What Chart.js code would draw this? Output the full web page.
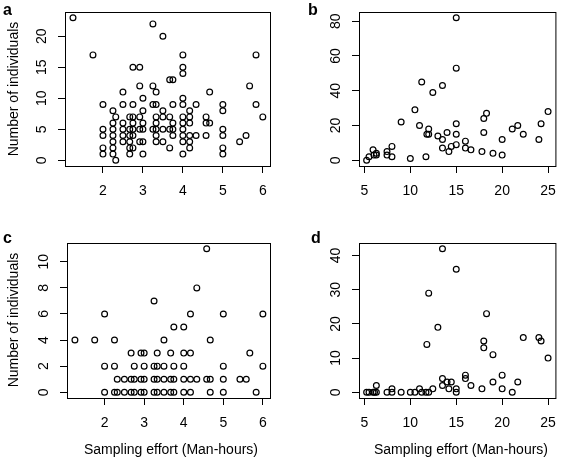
<!DOCTYPE html>
<html lang="en">
<head>
<meta charset="UTF-8">
<title>Sampling effort vs number of individuals</title>
<script src="https://cdn.jsdelivr.net/npm/chart.js"></script>
<style>
    body { margin: 0; background: #fff; font-family: "Liberation Sans", Arial, sans-serif; color: #000; }
    #wrap { position: relative; width: 566px; height: 458px; overflow: hidden; }
    #wrap canvas { position: absolute; }
    .letter { position: absolute; font-weight: bold; font-size: 16px; line-height: 16px; }
    .xtitle { position: absolute; font-size: 14px; line-height: 16px; width: 240px; text-align: center; white-space: nowrap; }
    .ytitle { position: absolute; font-size: 14px; line-height: 16px; width: 200px; height: 16px; text-align: center; white-space: nowrap; transform: rotate(-90deg); }
</style>
</head>
<body>
<div id="wrap">
    <canvas id="pa" width="283" height="229" style="left:0;top:0"></canvas>
    <canvas id="pb" width="283" height="229" style="left:283px;top:0"></canvas>
    <canvas id="pc" width="283" height="229" style="left:0;top:229px"></canvas>
    <canvas id="pd" width="283" height="229" style="left:283px;top:229px"></canvas>

    <div class="letter" style="left:3px;top:2px">a</div>
    <div class="letter" style="left:308px;top:2px">b</div>
    <div class="letter" style="left:3px;top:230px">c</div>
    <div class="letter" style="left:311px;top:230px">d</div>

    <div class="ytitle" style="left:-87px;top:81px">Number of individuals</div>
    <div class="ytitle" style="left:-87px;top:312px">Number of individuals</div>
    <div class="xtitle" style="left:51px;top:441px">Sampling effort (Man-hours)</div>
    <div class="xtitle" style="left:341px;top:441px">Sampling effort (Man-hours)</div>
</div>

<script>
    // panel a / c : small sites (effort 1-6 h)
    const effortA = [
        1.25, 1.75,
        2, 2, 2, 2, 2,
        2.25, 2.25, 2.25, 2.25, 2.25, 2.25, 2.25,
        2.32, 2.32,
        2.5, 2.5, 2.5, 2.5, 2.5, 2.5,
        2.67, 2.67, 2.67, 2.67, 2.67, 2.67,
        2.75, 2.75, 2.75, 2.75, 2.75, 2.75, 2.75,
        2.92, 2.92, 2.92, 2.92, 2.92,
        3, 3, 3, 3, 3, 3,
        3.25, 3.25, 3.25, 3.25,
        3.33, 3.33, 3.33, 3.33, 3.33, 3.33, 3.33,
        3.5, 3.5, 3.5, 3.5, 3.5,
        3.67, 3.67, 3.67, 3.67,
        3.75, 3.75, 3.75, 3.75, 3.75,
        4, 4, 4, 4, 4, 4, 4, 4, 4, 4, 4,
        4.17, 4.17, 4.17, 4.17, 4.17, 4.17,
        4.33, 4.33,
        4.58, 4.58, 4.58,
        4.67, 4.67,
        5, 5, 5, 5, 5, 5,
        5.42, 5.58, 5.67, 5.83, 5.83, 6
    ];
    const countA = [
        23, 17,
        9, 5, 4, 2, 1,
        8, 6, 5, 4, 3, 2, 1,
        7, 0,
        11, 9, 6, 5, 4, 3,
        7, 5, 4, 3, 2, 1,
        15, 9, 7, 6, 5, 4, 2,
        15, 12, 7, 5, 3,
        10, 8, 6, 5, 3, 1,
        22, 12, 9, 5,
        11, 9, 7, 6, 5, 4, 3,
        20, 8, 7, 5, 3,
        13, 7, 5, 2,
        13, 9, 6, 5, 4,
        17, 15, 14, 10, 9, 7, 6, 5, 4, 3, 1,
        8, 7, 6, 4, 3, 2,
        9, 4,
        7, 6, 4,
        11, 6,
        9, 8, 5, 4, 2, 1,
        3, 4, 12, 17, 9, 7
    ];

    const effortC = [
        1.25, 1.75,
        2, 2, 2,
        2.25, 2.25, 2.25,
        2.32, 2.32,
        2.5, 2.5,
        2.67, 2.67, 2.67,
        2.75, 2.75, 2.75,
        2.92, 2.92, 2.92,
        3, 3, 3, 3,
        3.25, 3.25, 3.25, 3.25,
        3.33, 3.33, 3.33, 3.33,
        3.5, 3.5, 3.5, 3.5,
        3.67, 3.67, 3.67,
        3.75, 3.75, 3.75, 3.75,
        4, 4, 4, 4, 4,
        4.17, 4.17, 4.17, 4.17,
        4.33, 4.33,
        4.58, 4.58,
        4.67, 4.67, 4.67,
        5, 5, 5, 5,
        5.42, 5.58, 5.67, 5.83, 6, 6
    ];
    const countC = [
        4, 4,
        6, 2, 0,
        4, 2, 0,
        1, 0,
        1, 0,
        3, 1, 0,
        2, 1, 0,
        3, 1, 0,
        3, 2, 1, 0,
        7, 2, 1, 0,
        3, 2, 1, 0,
        4, 2, 1, 0,
        3, 1, 0,
        5, 2, 1, 0,
        5, 3, 2, 1, 0,
        6, 3, 1, 0,
        8, 1,
        11, 1,
        4, 1, 0,
        6, 2, 1, 0,
        1, 1, 3, 0, 6, 2
    ];

    // panel b / d : larger sites (effort 5-25 h)
    const effortB = [5.24, 5.5, 5.94, 6.04, 6.3, 6.3, 7.46, 7.46, 8, 8, 9, 10, 10.5, 11, 11.24, 11.7,
        11.8, 12, 12, 12.45, 13, 13.5, 13.5, 13.5, 14, 14.2, 14.46, 15, 15, 15, 15, 15, 16, 16, 16.6,
        17.8, 18, 18, 18.3, 19, 20, 20, 21.1, 21.7, 22.3, 24, 24.24, 25];
    const countB = [0, 2, 6, 3, 4, 3, 5, 3, 8, 2, 22, 1, 29, 20, 45, 2,
        15, 15, 18, 39, 14, 43, 12, 7, 16, 5, 8, 82, 53, 21, 15, 9, 11, 7, 6,
        5, 24, 16, 27, 4, 12, 3, 18, 20, 15, 12, 21, 28];

    const effortD = [5.24, 5.5, 5.94, 6.1, 6.3, 6.3, 7.46, 8, 8, 9, 10, 10.5, 11, 11.24, 11.7, 11.8,
        12, 12, 12.45, 13, 13.5, 13.5, 13.5, 14, 14.2, 14.46, 15, 15, 15, 16, 16, 16.6, 17.8, 18, 18,
        18.3, 19, 19, 20, 20, 21.1, 21.7, 22.3, 24, 24.24, 25];
    const countD = [0, 0, 0, 0, 0, 2, 0, 1, 0, 0, 0, 0, 1, 0, 0, 14,
        29, 0, 1, 19, 42, 4, 2, 3, 1, 3, 36, 1, 0, 5, 4, 2, 1, 15, 13,
        23, 11, 3, 5, 1, 0, 3, 16, 16, 15, 10];

    const xTicksSmall = [2, 3, 4, 5, 6];
    const xTicksLarge = [5, 10, 15, 20, 25];
    const yTicksA = [0, 5, 10, 15, 20];
    const yTicksB = [0, 20, 40, 60, 80];
    const yTicksC = [0, 2, 4, 6, 8, 10];
    const yTicksD = [0, 10, 20, 30, 40];

    const FONT = '"Liberation Sans", Arial, sans-serif';
    Chart.defaults.font.family = FONT;
    Chart.defaults.color = '#000';

    // box round the plot region, like R's box()
    const frame = {
        id: 'frame',
        afterDraw(chart) {
            const a = chart.chartArea, ctx = chart.ctx;
            ctx.save();
            ctx.strokeStyle = '#000';
            ctx.lineWidth = 1;
            ctx.strokeRect(a.left + 0.5, a.top + 0.5, a.right - a.left, a.bottom - a.top);
            ctx.restore();
        }
    };

    // R draws y tick labels parallel to the axis
    const yLabels = {
        id: 'yLabels',
        afterDraw(chart) {
            const ctx = chart.ctx, s = chart.scales.y, left = chart.chartArea.left;
            ctx.save();
            ctx.fillStyle = '#000';
            ctx.font = '14px ' + FONT;
            ctx.textAlign = 'center';
            ctx.textBaseline = 'alphabetic';
            s.ticks.forEach(t => {
                ctx.save();
                ctx.translate(left - 19, s.getPixelForValue(t.value));
                ctx.rotate(-Math.PI / 2);
                ctx.fillText(String(t.value), 0, 0);
                ctx.restore();
            });
            ctx.restore();
        }
    };

    function panel(id, xs, ys, box, xr, yr, xTicks, yTicks) {
        const W = 283, H = 229, yW = 30, xH = 40;
        new Chart(document.getElementById(id), {
            type: 'scatter',
            data: {
                datasets: [{
                    data: xs.map((v, i) => ({ x: v, y: ys[i] })),
                    pointRadius: 2.9,
                    pointHoverRadius: 2.9,
                    pointBorderWidth: 1.2,
                    pointBorderColor: '#000',
                    pointBackgroundColor: 'rgba(0,0,0,0)'
                }]
            },
            options: {
                responsive: false,
                animation: false,
                events: [],
                layout: { padding: { left: box[0] - yW, top: box[1], right: W - box[2], bottom: H - box[3] - xH } },
                plugins: { legend: { display: false }, tooltip: { enabled: false } },
                scales: {
                    x: {
                        type: 'linear', min: xr[0], max: xr[1],
                        afterBuildTicks: s => { s.ticks = xTicks.map(v => ({ value: v })); },
                        afterFit: s => { s.height = xH; },
                        grid: { drawOnChartArea: false, drawTicks: true, tickLength: 7, color: '#000', lineWidth: 1 },
                        border: { color: '#000', width: 1 },
                        ticks: { color: '#000', font: { size: 14 }, padding: 10, maxRotation: 0, autoSkip: false }
                    },
                    y: {
                        type: 'linear', min: yr[0], max: yr[1],
                        afterBuildTicks: s => { s.ticks = yTicks.map(v => ({ value: v })); },
                        afterFit: s => { s.width = yW; },
                        grid: { drawOnChartArea: false, drawTicks: true, tickLength: 7, color: '#000', lineWidth: 1 },
                        border: { color: '#000', width: 1 },
                        ticks: { display: false }
                    }
                }
            },
            plugins: [frame, yLabels]
        });
    }

    panel('pa', effortA, countA, [65, 12, 270, 166], [1.05, 6.18], [-0.92, 23.92], xTicksSmall, yTicksA);
    panel('pb', effortB, countB, [76, 12, 280, 166], [4.41, 25.8], [-3.28, 85.28], xTicksLarge, yTicksB);
    panel('pc', effortC, countC, [67, 14, 270, 169], [1.05, 6.18], [-0.44, 11.44], xTicksSmall, yTicksC);
    panel('pd', effortD, countD, [76, 14, 280, 169], [4.41, 25.8], [-1.68, 43.68], xTicksLarge, yTicksD);
</script>
</body>
</html>
